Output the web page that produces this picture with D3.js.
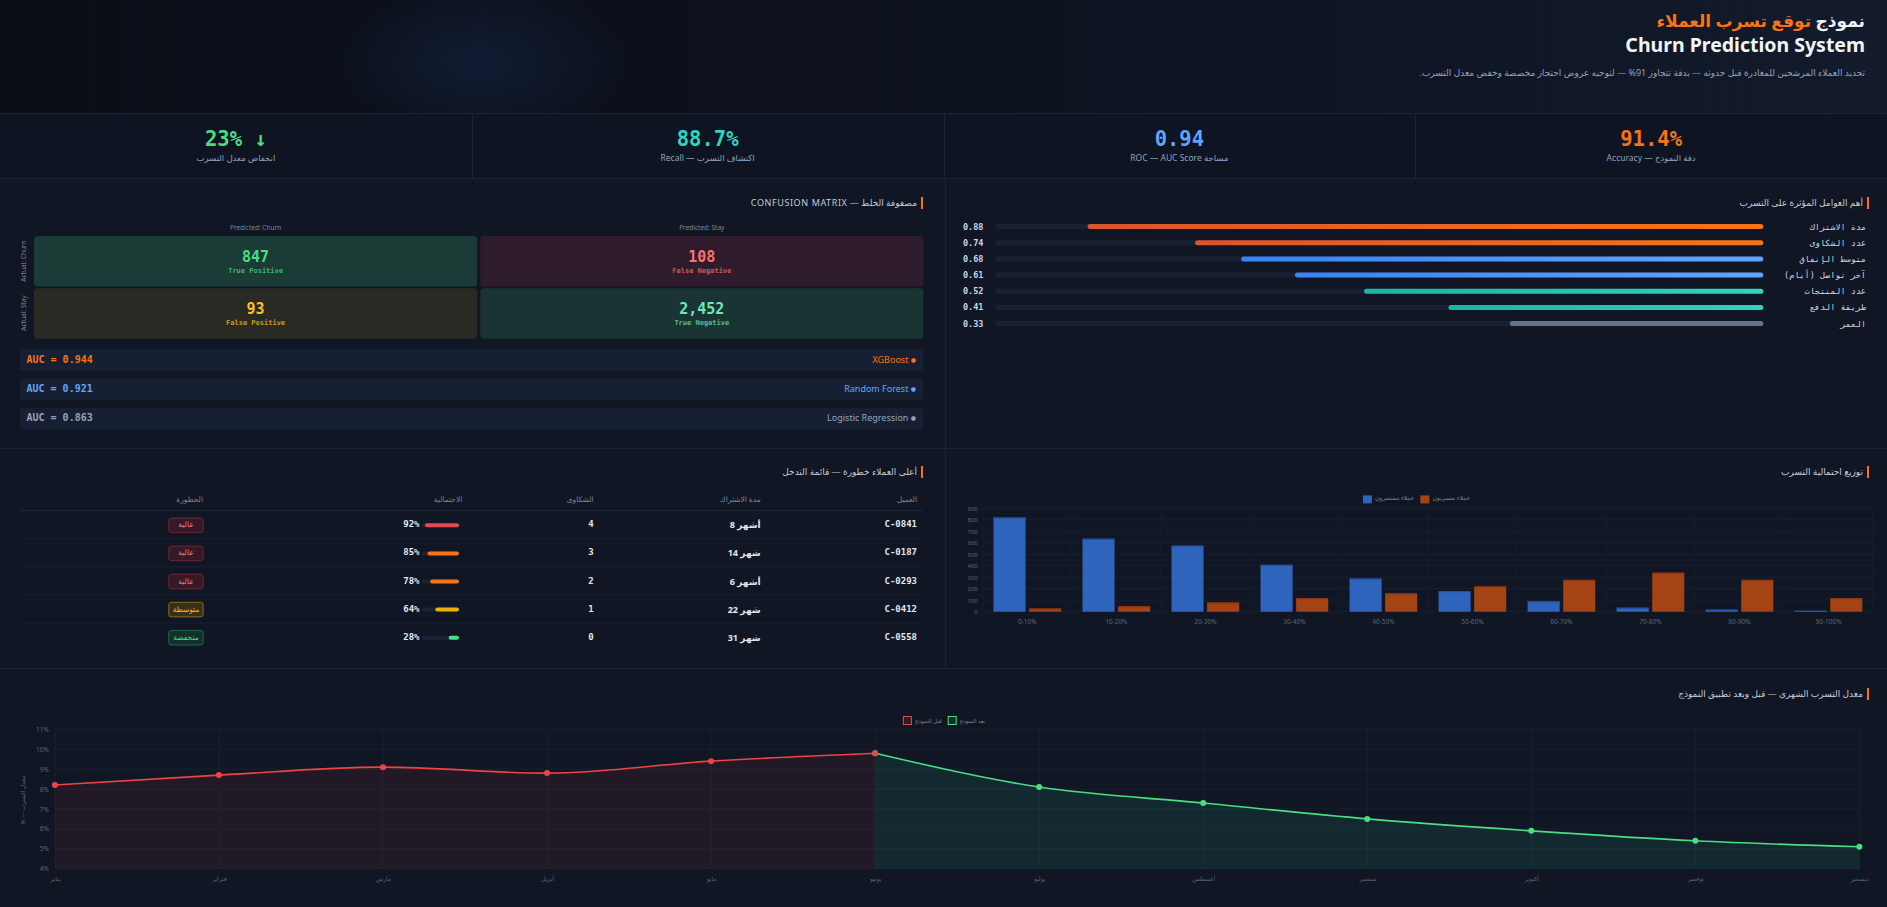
<!DOCTYPE html>
<html><head><meta charset="utf-8">
<script src="https://cdn.jsdelivr.net/npm/d3@7"></script>
<style>
html,body{margin:0;padding:0;background:#101624;}
body{width:1887px;height:907px;overflow:hidden;position:relative;font-family:"Noto Sans","DejaVu Sans",sans-serif;}
#root{position:relative;width:1887px;height:907px;}
</style></head><body>
<div id="root"></div>
<script>
// ---------------- DATA ----------------
const titleAr1 = "نموذج ";
const titleAr2 = "توقع تسرب العملاء";
const titleEn = "Churn Prediction System";
const subtitle = "تحديد العملاء المرشحين للمغادرة قبل حدوثه — بدقة تتجاوز 91% — لتوجيه عروض احتجاز مخصصة وخفض معدل التسرب.";

const kpiValues = ["23% ↓", "88.7%", "0.94", "91.4%"];
const kpiLabels = ["انخفاض معدل التسرب", "اكتشاف التسرب — Recall", "مساحة ROC — AUC Score", "دقة النموذج — Accuracy"];

const cmTitle = "مصفوفة الخلط — CONFUSION MATRIX";
const cmColHeads = ["Predicted: Churn", "Predicted: Stay"];
const cmRowHeads = ["Actual: Churn", "Actual: Stay"];
const cmValues = [847, 108, 93, 2452];
const cmNames = ["True Positive", "False Negative", "False Positive", "True Negative"];

const modelNames = ["XGBoost", "Random Forest", "Logistic Regression"];
const modelAUC = [0.944, 0.921, 0.863];

const featTitle = "أهم العوامل المؤثرة على التسرب";
const featureNames = ["مدة الاشتراك", "عدد الشكاوى", "متوسط الإنفاق", "آخر تواصل (أيام)", "عدد المنتجات", "طريقة الدفع", "العمر"];
const featureValues = [0.88, 0.74, 0.68, 0.61, 0.52, 0.41, 0.33];

const tableTitle = "أعلى العملاء خطورة — قائمة التدخل";
const tableHeads = ["العميل", "مدة الاشتراك", "الشكاوى", "الاحتمالية", "الخطورة"];
const customerIds = ["C-0841", "C-0187", "C-0293", "C-0412", "C-0558"];
const tenureMonths = [8, 14, 6, 22, 31];
const tenureUnits = ["أشهر", "شهر", "أشهر", "شهر", "شهر"];
const complaints = [4, 3, 2, 1, 0];
const churnProb = [92, 85, 78, 64, 28];
const riskLevels = ["عالية", "عالية", "عالية", "متوسطة", "منخفضة"];

const distTitle = "توزيع احتمالية التسرب";
const probBins = ["0-10%", "10-20%", "20-30%", "30-40%", "40-50%", "50-60%", "60-70%", "70-80%", "80-90%", "90-100%"];
const seriesNames = ["عملاء مستمرون", "عملاء متسربون"];
const retained = [820, 635, 575, 408, 288, 180, 90, 35, 18, 8];
const churned = [28, 48, 80, 118, 160, 220, 278, 340, 278, 118];
const distTicks = [0, 100, 200, 300, 400, 500, 600, 700, 800, 900];

const lineTitle = "معدل التسرب الشهري — قبل وبعد تطبيق النموذج";
const months = ["يناير", "فبراير", "مارس", "أبريل", "مايو", "يونيو", "يوليو", "أغسطس", "سبتمبر", "أكتوبر", "نوفمبر", "ديسمبر"];
const lineSeriesNames = ["قبل النموذج", "بعد النموذج"];
const beforeModel = [8.2, 8.7, 9.1, 8.8, 9.4, 9.8, null, null, null, null, null, null];
const afterModel = [null, null, null, null, null, 9.8, 8.1, 7.3, 6.5, 5.9, 5.4, 5.1];
const rateTicks = [4, 5, 6, 7, 8, 9, 10, 11];
const rateAxisTitle = "معدل التسرب — %";

// ---------------- PALETTE ----------------
const C = {
  line: "#1c2536", text: "#cbd5e1", dim: "#7c8799", faint: "#5b6678",
  orange: "#f97316", green: "#4ade80", teal: "#2dd4bf", blue: "#60a5fa", grey: "#94a3b8"
};
const kpiColors = [C.green, C.teal, C.blue, C.orange];
const cmFill = ["#1b3b36", "#2e1c2c", "#2a2a25", "#193432"];
const cmText = ["#4ade80", "#f87171", "#fbbf24", "#6ee7b7"];
const modelColors = [C.orange, C.blue, C.grey];
const featGrad = [["#d9552b", "#f97316"], ["#d9552b", "#f97316"], ["#3b82f6", "#60a5fa"], ["#3b82f6", "#60a5fa"], ["#14b8a6", "#2dd4bf"], ["#14b8a6", "#2dd4bf"], ["#64748b", "#64748b"]];
const probColor = p => p >= 90 ? "#e5484d" : p >= 70 ? "#f97316" : p >= 50 ? "#eab308" : "#4ade80";
const riskStyle = {"عالية": ["#351a26", "#6e2738", "#f27a8a"], "متوسطة": ["#35301a", "#8a6d1c", "#fbbf24"], "منخفضة": ["#12302b", "#1f6b4a", "#4ade80"]};

const W = 1887, H = 907;
const root = d3.select("#root");
const SANS = '"Noto Sans","DejaVu Sans",sans-serif';
const MONO = '"DejaVu Sans Mono","Liberation Mono",monospace';

// ------------- BACKGROUND LAYERS -------------
root.append("div").style("position", "absolute").style("left", "0px").style("top", "0px")
  .style("width", W + "px").style("height", "113px")
  .style("background", "radial-gradient(ellipse 150px 85px at 478px 62px, rgba(30,55,105,0.32), rgba(0,0,0,0) 100%), linear-gradient(90deg,#0a0e17 0%,#0c111d 45%,#0f1524 75%,#131b2c 100%)");
root.append("div").style("position", "absolute").style("left", "0px").style("top", "113px")
  .style("width", W + "px").style("height", "65px").style("background", "#0e1421");

const svg = root.append("svg").attr("width", W).attr("height", H)
  .style("position", "absolute").style("left", "0px").style("top", "0px");
const defs = svg.append("defs");

// text helper (HTML, for proper bidi)
function T(x, y, text, o = {}) {
  const a = o.anchor || "start";
  const tx = a === "end" ? "-100%" : a === "middle" ? "-50%" : "0";
  const d = root.append("div").style("position", "absolute")
    .style("left", x + "px").style("top", y + "px")
    .style("transform", `translate(${tx},-50%)` + (o.rotate ? ` rotate(${o.rotate}deg)` : ""))
    .style("white-space", "nowrap").style("font-size", (o.size || 10) + "px").style("line-height", "1.25")
    .style("color", o.color || C.text).style("font-weight", o.weight || 400)
    .style("font-family", o.font || SANS);
  if (o.dir) d.attr("dir", o.dir);
  if (o.ls) d.style("letter-spacing", o.ls + "px");
  if (o.html) d.html(text); else d.text(text);
  return d;
}
// centred legend, laid out from measured text widths
function legend(items, centerX, y, size, boxFn) {
  const nodes = items.map(it => T(0, y, it.name, {size, color: C.dim, dir: "rtl"}));
  const widths = nodes.map(n => n.node().getBoundingClientRect().width);
  const boxW = 9, gapBT = 3, gapItems = 6;
  const total = d3.sum(widths) + items.length * (boxW + gapBT) + (items.length - 1) * gapItems;
  let x = centerX - total / 2;
  items.forEach((it, i) => {
    boxFn(it, x);
    nodes[i].style("left", (x + boxW + gapBT) + "px");
    x += boxW + gapBT + widths[i] + gapItems;
  });
}

// ------------- GRID LINES -------------
const hLines = [113, 178, 448, 668];
svg.selectAll("line.hl").data(hLines).join("line").attr("class", "hl")
  .attr("x1", 0).attr("x2", W).attr("y1", d => d + 0.5).attr("y2", d => d + 0.5).attr("stroke", C.line);
const kpiX = d3.scaleBand().domain(d3.range(4)).range([0, W]);
svg.selectAll("line.kv").data([1, 2, 3]).join("line").attr("class", "kv")
  .attr("x1", d => Math.round(kpiX(d)) + 0.5).attr("x2", d => Math.round(kpiX(d)) + 0.5)
  .attr("y1", 113).attr("y2", 178).attr("stroke", C.line);
svg.append("line").attr("x1", 945.5).attr("x2", 945.5).attr("y1", 178).attr("y2", 668).attr("stroke", C.line);

// ------------- HEADER -------------
T(1865, 21, `<span>${titleAr1}</span><span style="color:${C.orange}">${titleAr2}</span>`, {anchor: "end", size: 17, weight: 700, color: "#f1f5f9", dir: "rtl", html: true});
T(1865, 45, titleEn, {anchor: "end", size: 19.5, weight: 700, color: "#f1f5f9", font: '"Noto Sans","Inter",sans-serif'});
T(1865, 73, subtitle, {anchor: "end", size: 9, color: "#94a3b8", dir: "rtl"});

// ------------- KPI -------------
kpiValues.forEach((v, i) => {
  const cx = kpiX(i) + kpiX.bandwidth() / 2;
  T(cx, 140, v, {anchor: "middle", size: 20.5, weight: 700, color: kpiColors[i], font: MONO});
  T(cx, 158, kpiLabels[i], {anchor: "middle", size: 8.5, color: "#94a3b8", dir: "rtl"});
});

// panel title helper
function panelTitle(rightX, y, text, extra = {}) {
  svg.append("rect").attr("x", rightX - 2).attr("y", y - 6).attr("width", 2).attr("height", 12).attr("fill", C.orange);
  T(rightX - 6, y, text, Object.assign({anchor: "end", size: 9, color: "#c3ccd9", dir: "rtl"}, extra));
}

// ------------- CONFUSION MATRIX -------------
panelTitle(923, 203, cmTitle, {ls: 0.6});
const cx = d3.scaleBand().domain(cmColHeads).range([34, 923.4]).paddingInner(0.0068);
const cy = d3.scaleBand().domain(cmRowHeads).range([236, 338.7]).paddingInner(0.03);
cmColHeads.forEach(h => T(cx(h) + cx.bandwidth() / 2, 228, h, {anchor: "middle", size: 6.5, color: C.dim}));
cmRowHeads.forEach(h => T(24, cy(h) + cy.bandwidth() / 2, h, {anchor: "middle", size: 6.5, color: C.dim, rotate: -90}));
const cells = cmValues.map((v, i) => ({v, name: cmNames[i], col: cmColHeads[i % 2], row: cmRowHeads[Math.floor(i / 2)], i}));
svg.selectAll("rect.cm").data(cells).join("rect").attr("class", "cm")
  .attr("x", d => cx(d.col)).attr("y", d => cy(d.row)).attr("width", cx.bandwidth()).attr("height", cy.bandwidth())
  .attr("rx", 4).attr("fill", d => cmFill[d.i]);
cells.forEach(d => {
  const mx = cx(d.col) + cx.bandwidth() / 2, my = cy(d.row);
  T(mx, my + 20.5, d3.format(",")(d.v), {anchor: "middle", size: 15, weight: 700, color: cmText[d.i], font: MONO});
  T(mx, my + 35, d.name, {anchor: "middle", size: 7, weight: 700, color: cmText[d.i], font: MONO}).style("opacity", 0.75);
});

// AUC rows
const ay = d3.scaleBand().domain(modelNames).range([349.3, 429.3]).paddingInner(0.26);
svg.selectAll("rect.auc").data(modelNames).join("rect").attr("class", "auc")
  .attr("x", 20).attr("y", d => ay(d)).attr("width", 903).attr("height", ay.bandwidth()).attr("rx", 3).attr("fill", "#172033");
modelNames.forEach((m, i) => {
  const yy = ay(m) + ay.bandwidth() / 2;
  T(26.5, yy, "AUC = " + d3.format(".3f")(modelAUC[i]), {size: 10, weight: 700, color: modelColors[i], font: MONO});
  T(916, yy, `${m} <span style="font-size:6px;vertical-align:1px">●</span>`, {anchor: "end", size: 9, color: modelColors[i], html: true});
});

// ------------- FEATURE IMPORTANCE -------------
panelTitle(1869, 203, featTitle);
const fy = d3.scalePoint().domain(featureNames).range([226.6, 323.6]);
const trackL = 995.5, trackR = 1763.3;
const fx = d3.scaleLinear().domain([0, 1]).range([0, trackR - trackL]);
featGrad.forEach((g, i) => {
  const lg = defs.append("linearGradient").attr("id", "fg" + i).attr("x1", "0%").attr("x2", "100%");
  lg.append("stop").attr("offset", "0%").attr("stop-color", g[0]);
  lg.append("stop").attr("offset", "100%").attr("stop-color", g[1]);
});
svg.selectAll("line.ftrack").data(featureNames).join("line").attr("class", "ftrack")
  .attr("x1", trackL + 2.5).attr("x2", trackR - 2.5).attr("y1", d => fy(d)).attr("y2", d => fy(d))
  .attr("stroke", "#182133").attr("stroke-width", 5).attr("stroke-linecap", "round");
svg.selectAll("rect.fbar").data(featureValues).join("rect").attr("class", "fbar")
  .attr("x", d => trackR - fx(d)).attr("width", d => fx(d))
  .attr("y", (d, i) => fy(featureNames[i]) - 2.5).attr("height", 5).attr("rx", 2.5)
  .attr("fill", (d, i) => `url(#fg${i})`);
featureNames.forEach((n, i) => {
  T(963, fy(n), d3.format(".2f")(featureValues[i]), {size: 8.5, weight: 700, color: C.text, font: MONO});
  T(1866, fy(n), n, {anchor: "end", size: 8.5, color: C.text, font: MONO, dir: "rtl", ls: 0.4});
});

// ------------- RISK TABLE -------------
panelTitle(923, 472, tableTitle);
const colRight = [917, 760.7, 593.7, 462.3, 203];
tableHeads.forEach((h, i) => T(colRight[i], 500, h, {anchor: "end", size: 7.5, color: C.dim, dir: "rtl"}));
svg.append("line").attr("x1", 20).attr("x2", 923).attr("y1", 510.5).attr("y2", 510.5).attr("stroke", C.line);
const ty = d3.scalePoint().domain(customerIds).range([525.3, 637.7]);
svg.selectAll("line.trow").data(customerIds.slice(0, -1)).join("line").attr("class", "trow")
  .attr("x1", 20).attr("x2", 923).attr("y1", d => ty(d) + 13.5).attr("y2", d => ty(d) + 13.5).attr("stroke", "#172031");
const px = d3.scaleLinear().domain([0, 100]).range([0, 37]);
const pR = 459;
svg.selectAll("line.ptrack").data(customerIds).join("line").attr("class", "ptrack")
  .attr("x1", pR - px(100) + 2).attr("x2", pR - 2).attr("y1", d => ty(d)).attr("y2", d => ty(d))
  .attr("stroke", "#1a2335").attr("stroke-width", 4).attr("stroke-linecap", "round");
svg.selectAll("rect.pbar").data(churnProb).join("rect").attr("class", "pbar")
  .attr("x", d => pR - px(d)).attr("width", d => px(d)).attr("y", (d, i) => ty(customerIds[i]) - 2).attr("height", 4).attr("rx", 2)
  .attr("fill", d => probColor(d));
svg.selectAll("rect.badge").data(riskLevels).join("rect").attr("class", "badge")
  .attr("x", 168.8).attr("y", (d, i) => ty(customerIds[i]) - 7.3).attr("width", 34.3).attr("height", 14.6).attr("rx", 2.5)
  .attr("fill", d => riskStyle[d][0]).attr("stroke", d => riskStyle[d][1]).attr("stroke-width", 1);
customerIds.forEach((id, i) => {
  const yy = ty(id);
  T(917, yy, id, {anchor: "end", size: 9, weight: 700, color: "#e2e8f0", font: MONO});
  T(760.7, yy, `<span style="unicode-bidi:isolate">${tenureMonths[i]}</span> <span style="unicode-bidi:isolate">${tenureUnits[i]}</span>`, {anchor: "end", size: 9, weight: 700, color: "#e2e8f0", html: true, dir: "ltr"});
  T(593.7, yy, String(complaints[i]), {anchor: "end", size: 9, weight: 700, color: "#e2e8f0", font: MONO});
  T(419.5, yy, churnProb[i] + "%", {anchor: "end", size: 9, weight: 700, color: "#e2e8f0", font: MONO});
  T(186, yy, riskLevels[i], {anchor: "middle", size: 7.5, color: riskStyle[riskLevels[i]][2], dir: "rtl"});
});

// ------------- DISTRIBUTION BAR CHART -------------
panelTitle(1869, 472, distTitle);
const bx0 = d3.scaleBand().domain(probBins).range([982.8, 1873]).paddingInner(0.2).paddingOuter(0.1);
const bx1 = d3.scaleBand().domain([0, 1]).range([0, bx0.bandwidth()]).paddingInner(0.1).paddingOuter(0.05);
const by = d3.scaleLinear().domain([0, 900]).range([611.7, 508.3]);
const gDist = svg.append("g");
gDist.selectAll("line.hg").data(distTicks).join("line").attr("class", "hg")
  .attr("x1", 982.8).attr("x2", 1873).attr("y1", d => by(d)).attr("y2", d => by(d)).attr("stroke", "#172031");
gDist.selectAll("line.vg").data(d3.range(11)).join("line").attr("class", "vg")
  .attr("x1", d => 982.8 + d * bx0.step()).attr("x2", d => 982.8 + d * bx0.step())
  .attr("y1", 508.3).attr("y2", 611.7).attr("stroke", "#151e2e");
const distSeries = [retained, churned];
const barFill = ["rgba(59,130,246,0.72)", "rgba(234,88,12,0.68)"];
const barTop = ["#2350a6", "#8c3314"];
distSeries.forEach((s, si) => {
  gDist.selectAll("rect.b" + si).data(s).join("rect").attr("class", "b" + si)
    .attr("x", (d, i) => bx0(probBins[i]) + bx1(si)).attr("width", bx1.bandwidth())
    .attr("y", d => by(d)).attr("height", d => by(0) - by(d)).attr("fill", barFill[si]);
  gDist.selectAll("line.bt" + si).data(s).join("line").attr("class", "bt" + si)
    .attr("x1", (d, i) => bx0(probBins[i]) + bx1(si)).attr("x2", (d, i) => bx0(probBins[i]) + bx1(si) + bx1.bandwidth())
    .attr("y1", d => by(d) + 0.6).attr("y2", d => by(d) + 0.6).attr("stroke", barTop[si]).attr("stroke-width", 1.2);
});
const yAxisD = gDist.append("g").attr("transform", "translate(982.8,0)")
  .call(d3.axisLeft(by).tickValues(distTicks).tickSize(0).tickPadding(5));
yAxisD.select(".domain").remove();
yAxisD.selectAll("text").attr("fill", C.faint).style("font-size", "6px").style("font-family", SANS);
const xAxisD = gDist.append("g").attr("transform", "translate(0,611.7)")
  .call(d3.axisBottom(bx0).tickSize(0).tickPadding(8));
xAxisD.select(".domain").remove();
xAxisD.selectAll("text").attr("fill", C.faint).style("font-size", "6.5px").style("font-family", SANS);
legend(seriesNames.map((n, i) => ({name: n, c: barFill[i]})), 1416.6, 499.4, 6,
  (it, x) => svg.append("rect").attr("x", x).attr("y", 495.4).attr("width", 9).attr("height", 8).attr("fill", it.c));

// ------------- MONTHLY LINE CHART -------------
panelTitle(1869, 694, lineTitle);
const lx = d3.scalePoint().domain(months).range([54.9, 1859.4]);
const ly = d3.scaleLinear().domain([4, 11]).range([868.7, 729.3]);
const gL = svg.append("g");
gL.selectAll("line.lh").data(rateTicks).join("line").attr("class", "lh")
  .attr("x1", 54.9).attr("x2", 1859.4).attr("y1", d => ly(d)).attr("y2", d => ly(d)).attr("stroke", "#172031");
gL.selectAll("line.lv").data(months).join("line").attr("class", "lv")
  .attr("x1", d => lx(d)).attr("x2", d => lx(d)).attr("y1", 729.3).attr("y2", 868.7).attr("stroke", "#172031");
const yAxisL = gL.append("g").attr("transform", "translate(54.9,0)")
  .call(d3.axisLeft(ly).tickValues(rateTicks).tickFormat(d => d + "%").tickSize(0).tickPadding(6));
yAxisL.select(".domain").remove();
yAxisL.selectAll("text").attr("fill", C.faint).style("font-size", "6.5px").style("font-family", SANS);
const xAxisL = gL.append("g").attr("transform", "translate(0,868.7)")
  .call(d3.axisBottom(lx).tickSize(0).tickPadding(8));
xAxisL.select(".domain").remove();
xAxisL.selectAll("text").attr("fill", C.faint).style("font-size", "6px").style("font-family", SANS);
T(24, 800, rateAxisTitle, {anchor: "middle", size: 6, color: C.faint, rotate: -90, dir: "rtl"});

const lineSeries = [
  {vals: afterModel, stroke: "#4ade80", fill: "rgba(52,211,153,0.10)"},
  {vals: beforeModel, stroke: "#ef4444", fill: "rgba(239,68,68,0.08)"}
];
lineSeries.forEach(s => {
  const pts = s.vals.map((v, i) => ({m: months[i], v}));
  const area = d3.area().defined(d => d.v != null).x(d => lx(d.m)).y0(ly(4)).y1(d => ly(d.v)).curve(d3.curveMonotoneX);
  const line = d3.line().defined(d => d.v != null).x(d => lx(d.m)).y(d => ly(d.v)).curve(d3.curveMonotoneX);
  gL.append("path").datum(pts).attr("d", area).attr("fill", s.fill);
  gL.append("path").datum(pts).attr("d", line).attr("fill", "none").attr("stroke", s.stroke).attr("stroke-width", 1.6);
});
lineSeries.forEach(s => {
  gL.selectAll(null).data(s.vals.map((v, i) => ({m: months[i], v})).filter(d => d.v != null)).join("circle")
    .attr("cx", d => lx(d.m)).attr("cy", d => ly(d.v)).attr("r", 3).attr("fill", s.stroke);
});
const lineLegendStyle = [["#ef4444", "rgba(239,68,68,0.12)"], ["#4ade80", "rgba(52,211,153,0.12)"]];
legend(lineSeriesNames.map((n, i) => ({name: n, c: lineLegendStyle[i][0], f: lineLegendStyle[i][1]})), 944, 720.5, 5.5,
  (it, x) => svg.append("rect").attr("x", x + 0.5).attr("y", 716.5).attr("width", 8).attr("height", 8)
    .attr("fill", it.f).attr("stroke", it.c).attr("stroke-width", 1));
</script>
</body></html>
